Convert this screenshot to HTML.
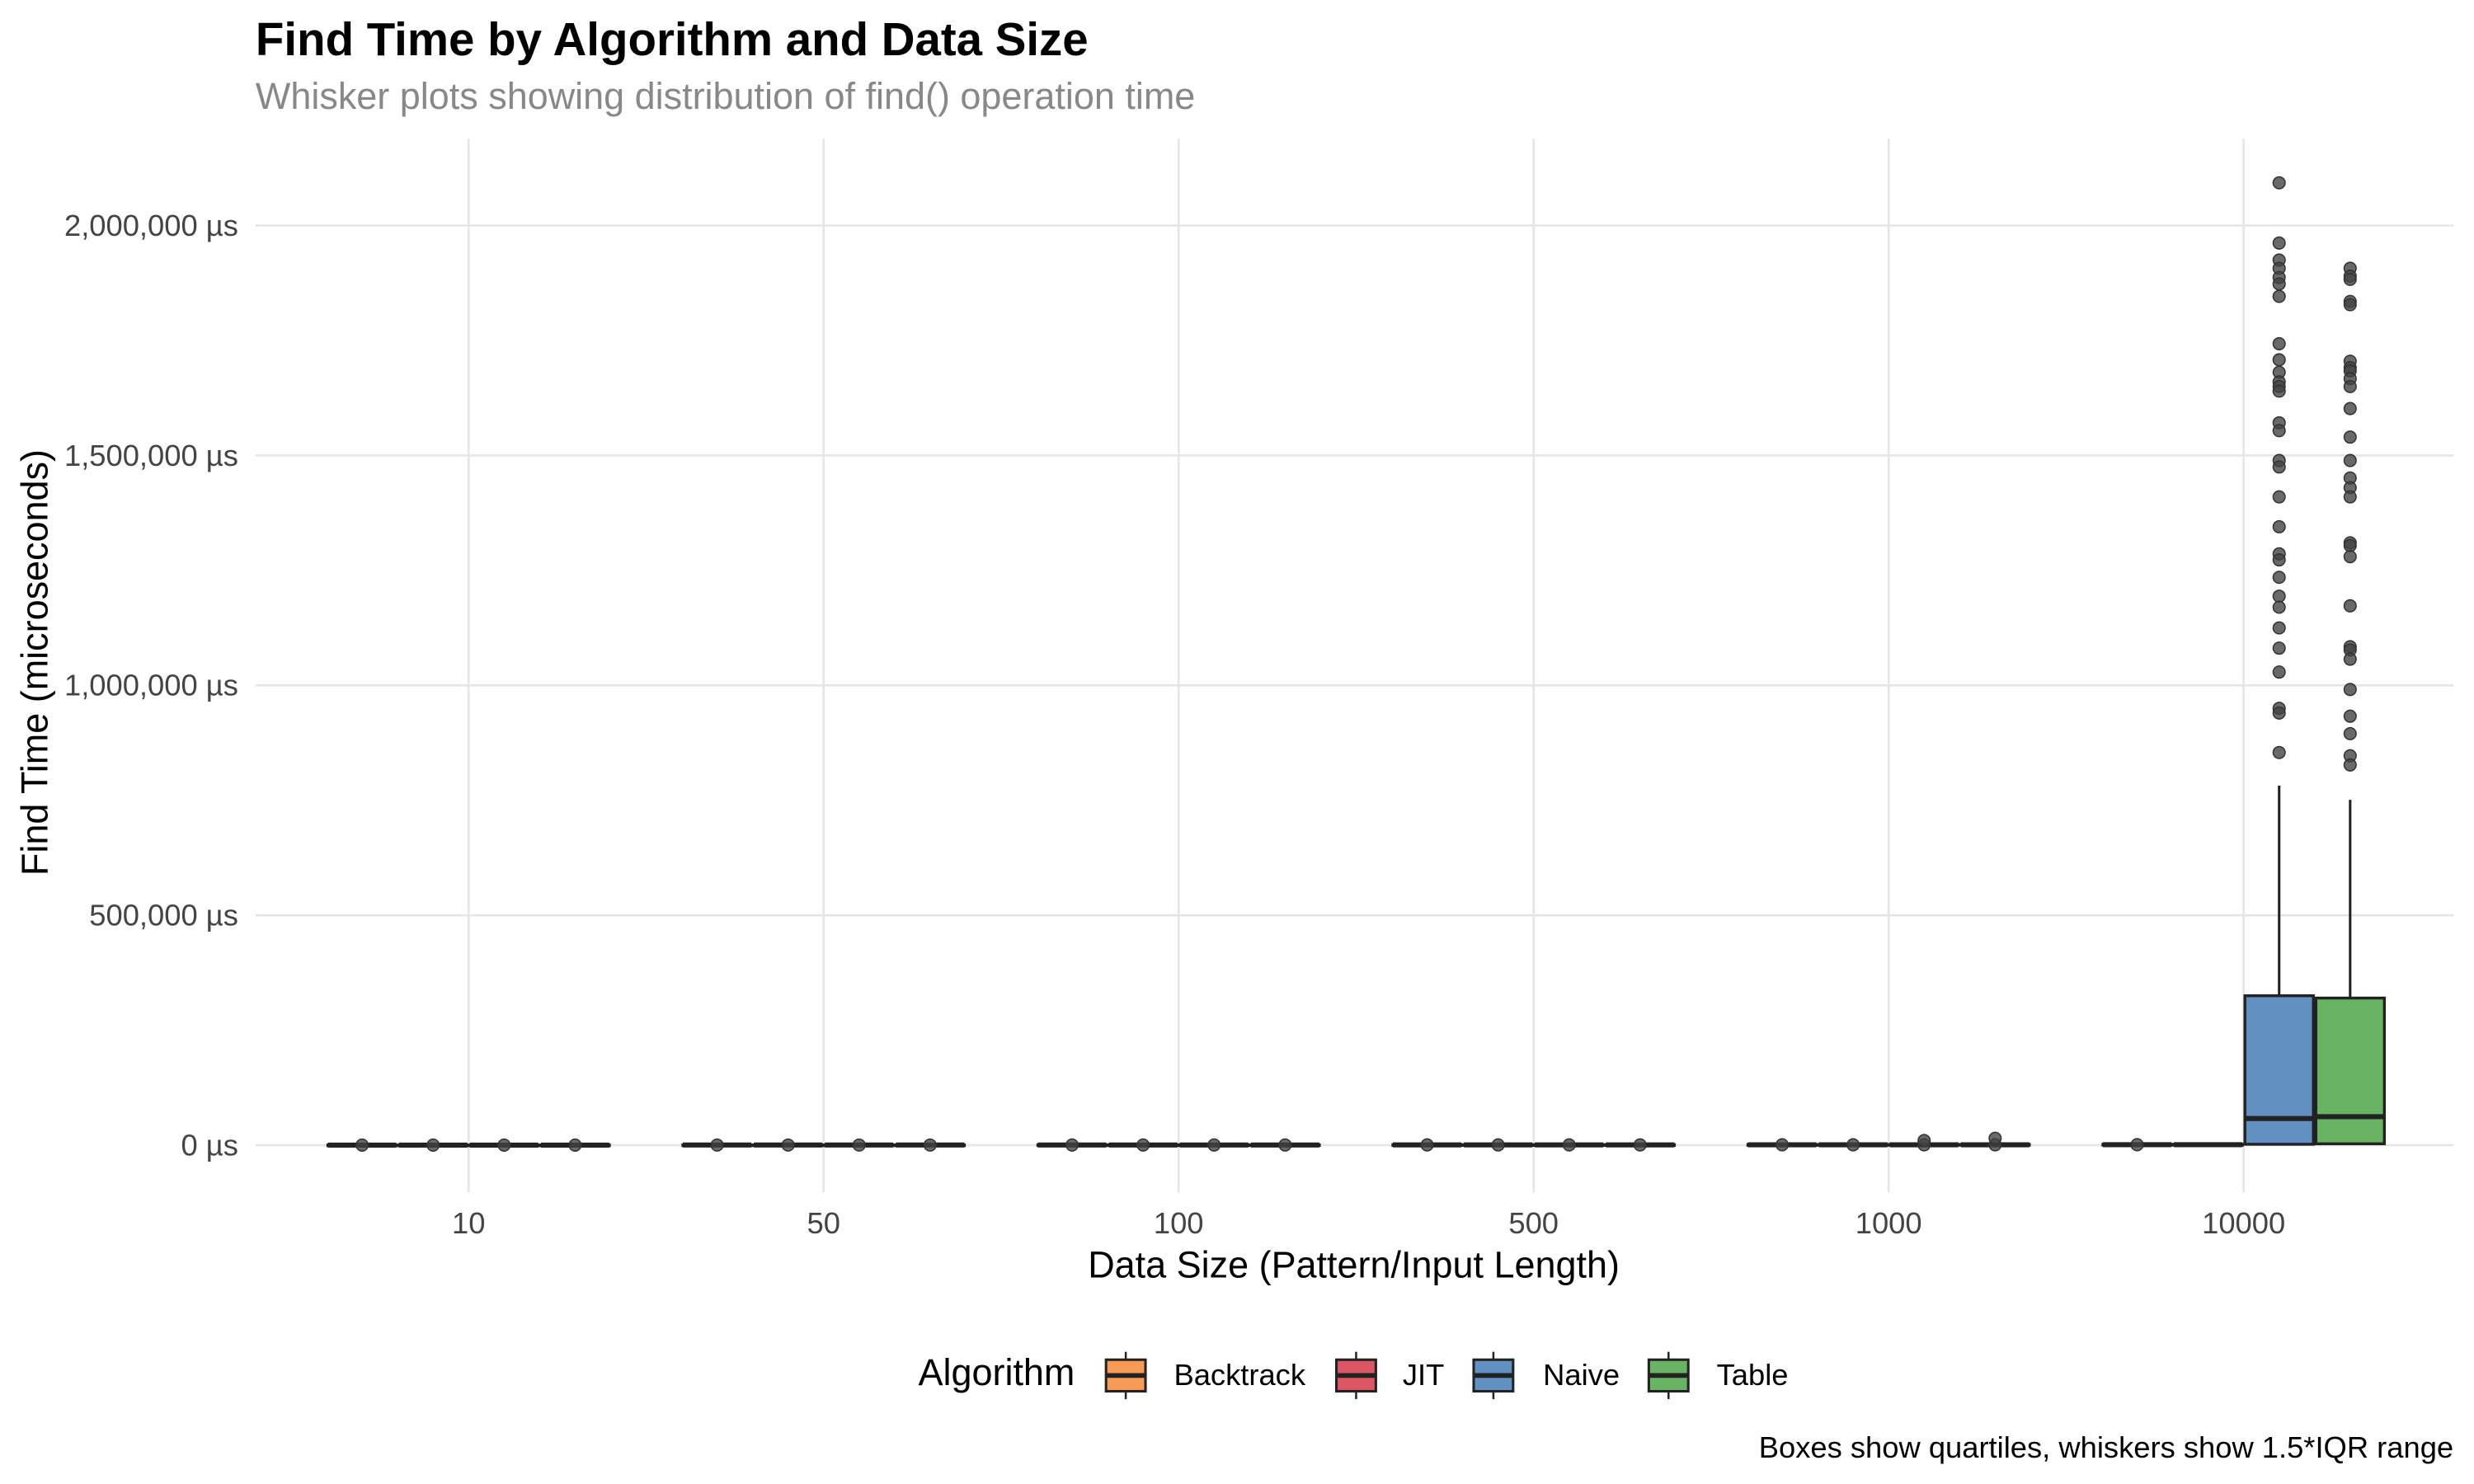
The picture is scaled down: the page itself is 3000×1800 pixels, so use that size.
<!DOCTYPE html>
<html><head><meta charset="utf-8"><style>
html,body{margin:0;padding:0;background:#fff}
svg{display:block;font-family:"Liberation Sans",Arial,sans-serif}
</style></head><body>
<svg id="chart" width="3000" height="1800" viewBox="0 0 1568 940.8" preserveAspectRatio="none" xmlns="http://www.w3.org/2000/svg">
<text x="162" y="35" font-size="29.5" font-weight="bold" fill="#000">Find Time by Algorithm and Data Size</text>
<text x="162" y="69" font-size="23.5" fill="#888">Whisker plots showing distribution of find() operation time</text>
<g id="grid"></g>
<g id="yticks"></g>
<g id="xticks"></g>
<g id="marks"></g>
<text x="858" y="810" font-size="23.5" text-anchor="middle" fill="#000">Data Size (Pattern/Input Length)</text>
<text transform="translate(30,420) rotate(-90)" font-size="23.5" text-anchor="middle" fill="#000">Find Time (microseconds)</text>
<g id="legend"></g>
<text x="1555" y="924" font-size="19" text-anchor="end" fill="#000">Boxes show quartiles, whiskers show 1.5*IQR range</text>
</svg>
<script>
const categories = ["10","50","100","500","1000","10000"];
const algorithms = ["Backtrack","JIT","Naive","Table"];
const colors = ["#F79A55","#DC5664","#6190C1","#68B464"];
const yTicks = [0,500000,1000000,1500000,2000000];
const yTickLabels = ["0 µs","500,000 µs","1,000,000 µs","1,500,000 µs","2,000,000 µs"];
const q1 = [[0,0,0,0],[0,0,0,0],[0,0,0,0],[0,0,0,0],[0,0,0,0],[0,0,2000,3000]];
const medians = [[200,200,200,200],[300,300,300,300],[400,400,400,400],[600,600,600,600],[800,800,900,900],[1000,1000,58000,62000]];
const q3 = [[500,500,500,500],[700,700,700,700],[900,900,900,900],[1200,1200,1200,1200],[1500,1500,1700,1700],[2000,2000,325000,320000]];
const whiskerHigh = [[1500,1500,1500,1500],[2000,2000,2000,2000],[2500,2500,2500,2500],[3000,3000,3000,3000],[4000,4000,4000,4000],[5000,5000,782000,751000]];
const outliers10000Naive = [2093000,1962000,1925000,1907000,1887000,1873000,1846000,1743000,1708000,1681000,1660000,1650000,1640000,1571000,1554000,1489000,1475000,1410000,1345000,1286000,1273000,1235000,1194000,1170000,1125000,1081000,1029000,950000,940000,854000];
const outliers10000Table = [1907000,1890000,1883000,1835000,1828000,1705000,1691000,1684000,1667000,1650000,1602000,1540000,1489000,1451000,1430000,1410000,1310000,1304000,1280000,1173000,1084000,1077000,1057000,991000,933000,895000,847000,827000];
const outliers1000JIT = [10000];
const outliers1000Table = [15000];

const NS="http://www.w3.org/2000/svg";
const PL=162, PR=1555, PT=88, PB=756;
function yS(v){return 726-(v/2000000)*583;}
function xC(i){return 297+i*225;}
function mk(tag,attrs,parent){const e=document.createElementNS(NS,tag);for(const k in attrs)e.setAttribute(k,attrs[k]);parent.appendChild(e);return e;}
const grid=document.getElementById('grid'), yt=document.getElementById('yticks'), xt=document.getElementById('xticks'), marks=document.getElementById('marks');
yTicks.forEach((v,i)=>{
  const l=mk('line',{x1:PL,x2:PR,y1:yS(v),y2:yS(v),stroke:'#e6e6e6','stroke-width':1.4},grid);
  
  
  const t=mk('text',{x:151,y:yS(v)+6.5,'font-size':19,'text-anchor':'end',fill:'#444'},yt);
  t.textContent=yTickLabels[i];
  
  
});
categories.forEach((c,i)=>{
  const l=mk('line',{x1:xC(i),x2:xC(i),y1:PT,y2:PB,stroke:'#e6e6e6','stroke-width':1.4},grid);
  
  
  const t=mk('text',{x:xC(i),y:782,'font-size':19,'text-anchor':'middle',fill:'#444'},xt);
  t.textContent=c;
  
  
});
const bw=45;
function dot(cx,v){
  const d=mk('circle',{cx:cx,cy:yS(v),r:3.8,fill:'#444','fill-opacity':0.8,stroke:'#333','stroke-width':0.8},marks);
  
  
}
categories.forEach((c,i)=>{
  algorithms.forEach((a,j)=>{
    const cx=xC(i)-90+bw*j+bw/2;
    const g=mk('g',{},marks);
    
    
    mk('line',{x1:cx,x2:cx,y1:yS(whiskerHigh[i][j]),y2:yS(q3[i][j]),stroke:'#222','stroke-width':1.6},g);
    const top=yS(q3[i][j]), bot=yS(q1[i][j]);
    mk('rect',{x:cx-bw/2+0.8,y:top,width:bw-1.6,height:Math.max(bot-top,0.5),fill:colors[j],stroke:'#222','stroke-width':1.8},g);
    mk('line',{x1:cx-bw/2+0.8,x2:cx+bw/2-0.8,y1:yS(medians[i][j]),y2:yS(medians[i][j]),stroke:'#222','stroke-width':3.2},g);
    if(i<5 || j<1){ dot(cx,medians[i][j]); }
  });
});
outliers10000Naive.forEach(v=>dot(xC(5)-90+bw*2.5,v));
outliers10000Table.forEach(v=>dot(xC(5)-90+bw*3.5,v));
outliers1000JIT.forEach(v=>dot(xC(4)-90+bw*2.5,v));
outliers1000Table.forEach(v=>dot(xC(4)-90+bw*3.5,v));
const lg=document.getElementById('legend');
const lt=mk('text',{x:582,y:878,'font-size':23.5,fill:'#000'},lg);
lt.textContent='Algorithm';


const keyX=[700,846,933,1044], labX=[744,889,978,1088];
algorithms.forEach((a,j)=>{
  const g=mk('g',{},lg);
  
  
  const cx=keyX[j]+13.5;
  mk('line',{x1:cx,x2:cx,y1:857,y2:887,stroke:'#222','stroke-width':1.3},g);
  mk('rect',{x:keyX[j]+1,y:862,width:25,height:20,fill:colors[j],stroke:'#222','stroke-width':1.6},g);
  mk('line',{x1:keyX[j]+1,x2:keyX[j]+26,y1:872,y2:872,stroke:'#222','stroke-width':3},g);
  const t=mk('text',{x:labX[j],y:878,'font-size':19,fill:'#000'},g);
  t.textContent=a;
});
</script>
</body></html>
